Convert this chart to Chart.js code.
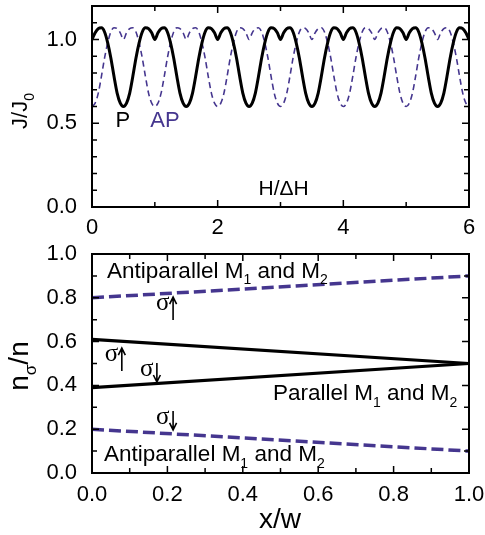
<!DOCTYPE html>
<html>
<head>
<meta charset="utf-8">
<script src="https://cdn.jsdelivr.net/npm/chart.js@4.4.1/dist/chart.umd.min.js"></script>
<style>
  html, body { margin: 0; padding: 0; background: #fff; }
  #wrap { position: relative; width: 485px; height: 535px; }
  #top { position: absolute; left: 0; top: 0; }
  #bottom { position: absolute; left: 0; top: 235px; }
</style>
</head>
<body>
<div id="wrap">
  <canvas id="top" width="485" height="235" style="width:485px;height:235px"></canvas>
  <canvas id="bottom" width="485" height="300" style="width:485px;height:300px"></canvas>
</div>
<script>
// ---- top panel: J/J0 vs H/dH ----
const hValues = [
  0, 0.05, 0.1, 0.15, 0.2, 0.25, 0.3, 0.35, 0.4, 0.45, 0.5, 0.55, 0.6, 0.65, 0.7, 0.75, 0.8, 0.85, 0.9, 0.95,
  1, 1.05, 1.1, 1.15, 1.2, 1.25, 1.3, 1.35, 1.4, 1.45, 1.5, 1.55, 1.6, 1.65, 1.7, 1.75, 1.8, 1.85, 1.9, 1.95,
  2, 2.05, 2.1, 2.15, 2.2, 2.25, 2.3, 2.35, 2.4, 2.45, 2.5, 2.55, 2.6, 2.65, 2.7, 2.75, 2.8, 2.85, 2.9, 2.95,
  3, 3.05, 3.1, 3.15, 3.2, 3.25, 3.3, 3.35, 3.4, 3.45, 3.5, 3.55, 3.6, 3.65, 3.7, 3.75, 3.8, 3.85, 3.9, 3.95,
  4, 4.05, 4.1, 4.15, 4.2, 4.25, 4.3, 4.35, 4.4, 4.45, 4.5, 4.55, 4.6, 4.65, 4.7, 4.75, 4.8, 4.85, 4.9, 4.95,
  5, 5.05, 5.1, 5.15, 5.2, 5.25, 5.3, 5.35, 5.4, 5.45, 5.5, 5.55, 5.6, 5.65, 5.7, 5.75, 5.8, 5.85, 5.9, 5.95,
  6
]
const pValues = [
  1.00, 1.04, 1.065, 1.07, 1.045, 0.98, 0.89, 0.78, 0.68, 0.62, 0.60, 0.62, 0.68, 0.78, 0.89, 0.98, 1.045, 1.07, 1.065, 1.04,
  1.00, 1.04, 1.065, 1.07, 1.045, 0.98, 0.89, 0.78, 0.68, 0.62, 0.60, 0.62, 0.68, 0.78, 0.89, 0.98, 1.045, 1.07, 1.065, 1.04,
  1.00, 1.04, 1.065, 1.07, 1.045, 0.98, 0.89, 0.78, 0.68, 0.62, 0.60, 0.62, 0.68, 0.78, 0.89, 0.98, 1.045, 1.07, 1.065, 1.04,
  1.00, 1.04, 1.065, 1.07, 1.045, 0.98, 0.89, 0.78, 0.68, 0.62, 0.60, 0.62, 0.68, 0.78, 0.89, 0.98, 1.045, 1.07, 1.065, 1.04,
  1.00, 1.04, 1.065, 1.07, 1.045, 0.98, 0.89, 0.78, 0.68, 0.62, 0.60, 0.62, 0.68, 0.78, 0.89, 0.98, 1.045, 1.07, 1.065, 1.04,
  1.00, 1.04, 1.065, 1.07, 1.045, 0.98, 0.89, 0.78, 0.68, 0.62, 0.60, 0.62, 0.68, 0.78, 0.89, 0.98, 1.045, 1.07, 1.065, 1.04,
  1.00
]
const apValues = [
  0.60, 0.62, 0.68, 0.78, 0.89, 0.98, 1.045, 1.07, 1.065, 1.04, 1.00, 1.04, 1.065, 1.07, 1.045, 0.98, 0.89, 0.78, 0.68, 0.62,
  0.60, 0.62, 0.68, 0.78, 0.89, 0.98, 1.045, 1.07, 1.065, 1.04, 1.00, 1.04, 1.065, 1.07, 1.045, 0.98, 0.89, 0.78, 0.68, 0.62,
  0.60, 0.62, 0.68, 0.78, 0.89, 0.98, 1.045, 1.07, 1.065, 1.04, 1.00, 1.04, 1.065, 1.07, 1.045, 0.98, 0.89, 0.78, 0.68, 0.62,
  0.60, 0.62, 0.68, 0.78, 0.89, 0.98, 1.045, 1.07, 1.065, 1.04, 1.00, 1.04, 1.065, 1.07, 1.045, 0.98, 0.89, 0.78, 0.68, 0.62,
  0.60, 0.62, 0.68, 0.78, 0.89, 0.98, 1.045, 1.07, 1.065, 1.04, 1.00, 1.04, 1.065, 1.07, 1.045, 0.98, 0.89, 0.78, 0.68, 0.62,
  0.60, 0.62, 0.68, 0.78, 0.89, 0.98, 1.045, 1.07, 1.065, 1.04, 1.00, 1.04, 1.065, 1.07, 1.045, 0.98, 0.89, 0.78, 0.68, 0.62,
  0.60
]
const topXLabels = [0, 2, 4, 6]
const topXMarks = [0, 1, 2, 3, 4, 5, 6]
const topYLabels = [0, 0.5, 1.0]
const topYMarks = [0, 0.1, 0.2, 0.3, 0.4, 0.5, 0.6, 0.7, 0.8, 0.9, 1.0, 1.1]

// ---- bottom panel: n_sigma/n vs x/w ----
const xwValues = [0, 1]
const apUpValues = [0.80, 0.90]
const pUpValues = [0.61, 0.50]
const pDownValues = [0.39, 0.50]
const apDownValues = [0.20, 0.10]
const botXLabels = [0, 0.2, 0.4, 0.6, 0.8, 1.0]
const botXMarks = [0, 0.1, 0.2, 0.3, 0.4, 0.5, 0.6, 0.7, 0.8, 0.9, 1.0]
const botYLabels = [0, 0.2, 0.4, 0.6, 0.8, 1.0]
const botYMarks = [0, 0.1, 0.2, 0.3, 0.4, 0.5, 0.6, 0.7, 0.8, 0.9, 1.0]

const SANS = '"Liberation Sans", Arial, Helvetica, sans-serif'
const SERIF = '"Liberation Serif", "Times New Roman", serif'
const PURPLE = '#45368f'

// text with subscripts: plain strings, or [str] for a subscript piece
function drawRich(ctx, parts, px, py, size, align, color) {
    const pieces = parts.map(p => Array.isArray(p)
        ? { t: p[0], f: Math.round(size * 0.62), dy: size * 0.3 }
        : { t: p, f: size, dy: 0 })
    let w = 0
    pieces.forEach(p => { ctx.font = `${p.f}px ${SANS}`; p.w = ctx.measureText(p.t).width; w += p.w })
    let cx = align === 'center' ? px - w / 2 : px
    ctx.fillStyle = color || '#000'
    ctx.textAlign = 'left'
    ctx.textBaseline = 'alphabetic'
    pieces.forEach(p => { ctx.font = `${p.f}px ${SANS}`; ctx.fillText(p.t, cx, py + p.dy); cx += p.w })
}

const decor = {
    id: 'decor',
    afterDatasetsDraw(chart, args, o) {
        const { ctx, chartArea: a, scales: { x, y } } = chart
        ctx.save()
        ctx.strokeStyle = '#000'
        ctx.lineWidth = 2
        ctx.strokeRect(a.left, a.top, a.right - a.left, a.bottom - a.top)

        // inward ticks on all four sides
        ctx.lineWidth = 1.5
        ctx.beginPath()
        o.xMarks.forEach(v => {
            const px = x.getPixelForValue(v)
            const len = o.xLabels.includes(v) ? 7 : 5
            ctx.moveTo(px, a.bottom); ctx.lineTo(px, a.bottom - len)
            ctx.moveTo(px, a.top); ctx.lineTo(px, a.top + len)
        })
        o.yMarks.forEach(v => {
            const py = y.getPixelForValue(v)
            const len = o.yLabels.includes(v) ? 7 : 5
            ctx.moveTo(a.left, py); ctx.lineTo(a.left + len, py)
            ctx.moveTo(a.right, py); ctx.lineTo(a.right - len, py)
        })
        ctx.stroke()

        // notes in data coordinates
        o.notes.forEach(n => {
            drawRich(ctx, n.parts, x.getPixelForValue(n.x), y.getPixelForValue(n.y), n.size, n.align, n.color)
        })

        // sigma with spin arrows
        ctx.fillStyle = '#000'
        ctx.strokeStyle = '#000'
        ctx.lineWidth = 1.6
        ;(o.sigmas || []).forEach(s => {
            const px = x.getPixelForValue(s.x), py = y.getPixelForValue(s.y)
            ctx.font = `25px ${SERIF}`
            ctx.textAlign = 'left'
            ctx.textBaseline = 'alphabetic'
            ctx.fillText('σ', px, py)
            const ax = px + 17
            const top = py - 13
            const bot = s.dir === 'up' ? py + 10 : py + 6
            ctx.beginPath()
            ctx.moveTo(ax, top); ctx.lineTo(ax, bot)
            if (s.dir === 'up') {
                ctx.moveTo(ax - 3.5, top + 7); ctx.lineTo(ax, top); ctx.lineTo(ax + 3.5, top + 7)
            } else {
                ctx.moveTo(ax - 3.5, bot - 7); ctx.lineTo(ax, bot); ctx.lineTo(ax + 3.5, bot - 7)
            }
            ctx.stroke()
        })

        // axis titles
        o.titles.forEach(t => {
            ctx.save()
            ctx.translate(t.px, t.py)
            if (t.rotate) ctx.rotate(-Math.PI / 2)
            drawRich(ctx, t.parts, 0, 0, t.size, 'center', '#000')
            ctx.restore()
        })
        ctx.restore()
    }
}

function makeScale(min, max, labels, padding, fit, fmt, horizontal) {
    return {
        type: 'linear',
        min, max,
        grid: { display: false, drawTicks: false },
        border: { display: false },
        ticks: {
            color: '#000',
            font: { family: SANS, size: 22 },
            padding,
            autoSkip: false,
            maxRotation: 0,
            callback: fmt
        },
        afterBuildTicks: s => { s.ticks = labels.map(v => ({ value: v })) },
        afterFit: s => {
            // fixed axis box, no label overhang padding
            if (horizontal) { s.height = fit; s.paddingLeft = 0; s.paddingRight = 0 }
            else { s.width = fit; s.paddingTop = 0; s.paddingBottom = 0 }
        }
    }
}

new Chart(document.getElementById('top'), {
    type: 'line',
    data: {
        datasets: [
            {
                label: 'P',
                data: hValues.map((h, i) => ({ x: h, y: pValues[i] })),
                borderColor: '#000',
                borderWidth: 3,
                pointRadius: 0,
                cubicInterpolationMode: 'monotone',
                fill: false
            },
            {
                label: 'AP',
                data: hValues.map((h, i) => ({ x: h, y: apValues[i] })),
                borderColor: PURPLE,
                borderWidth: 1.6,
                borderDash: [6, 4],
                pointRadius: 0,
                cubicInterpolationMode: 'monotone',
                fill: false
            }
        ]
    },
    options: {
        responsive: false,
        animation: false,
        layout: { padding: { top: 6, right: 16, left: 0, bottom: 0 } },
        plugins: {
            legend: { display: false },
            tooltip: { enabled: false },
            decor: {
                xMarks: topXMarks, xLabels: topXLabels,
                yMarks: topYMarks, yLabels: topYLabels,
                notes: [
                    { x: 0.49, y: 0.479, parts: ['P'], size: 22, align: 'center', color: '#000' },
                    { x: 1.16, y: 0.479, parts: ['AP'], size: 22, align: 'center', color: PURPLE },
                    { x: 3.05, y: 0.072, parts: ['H/ΔH'], size: 21, align: 'center', color: '#000' }
                ],
                titles: [
                    { px: 27, py: 111, rotate: true, size: 22, parts: ['J/J', ['0']] }
                ]
            }
        },
        scales: {
            x: makeScale(0, 6, topXLabels, 8, 28, v => String(v), true),
            y: makeScale(0, 1.2, topYLabels, 15, 92, v => v.toFixed(1), false)
        }
    },
    plugins: [decor]
})

new Chart(document.getElementById('bottom'), {
    type: 'line',
    data: {
        datasets: [
            { data: xwValues.map((v, i) => ({ x: v, y: pUpValues[i] })), borderColor: '#000', borderWidth: 3.2, pointRadius: 0, fill: false },
            { data: xwValues.map((v, i) => ({ x: v, y: pDownValues[i] })), borderColor: '#000', borderWidth: 3.2, pointRadius: 0, fill: false },
            { data: xwValues.map((v, i) => ({ x: v, y: apUpValues[i] })), borderColor: PURPLE, borderWidth: 3.5, borderDash: [12, 5], pointRadius: 0, fill: false },
            { data: xwValues.map((v, i) => ({ x: v, y: apDownValues[i] })), borderColor: PURPLE, borderWidth: 3.5, borderDash: [12, 5], pointRadius: 0, fill: false }
        ]
    },
    options: {
        responsive: false,
        animation: false,
        layout: { padding: { top: 19, right: 16, left: 0, bottom: 0 } },
        plugins: {
            legend: { display: false },
            tooltip: { enabled: false },
            decor: {
                xMarks: botXMarks, xLabels: botXLabels,
                yMarks: botYMarks, yLabels: botYLabels,
                notes: [
                    { x: 0.04, y: 0.892, parts: ['Antiparallel M', ['1'], ' and M', ['2']], size: 22.5, align: 'left' },
                    { x: 0.48, y: 0.333, parts: ['Parallel M', ['1'], ' and M', ['2']], size: 22.5, align: 'left' },
                    { x: 0.032, y: 0.055, parts: ['Antiparallel M', ['1'], ' and M', ['2']], size: 22.5, align: 'left' }
                ],
                sigmas: [
                    { x: 0.170, y: 0.744, dir: 'up' },
                    { x: 0.034, y: 0.511, dir: 'up' },
                    { x: 0.127, y: 0.443, dir: 'down' },
                    { x: 0.170, y: 0.224, dir: 'down' }
                ],
                titles: [
                    { px: 28, py: 131, rotate: true, size: 28, parts: ['n', ['σ'], '/n'] },
                    { px: 280, py: 293, rotate: false, size: 28, parts: ['x/w'] }
                ]
            }
        },
        scales: {
            x: makeScale(0, 1, botXLabels, 9, 62, v => v.toFixed(1), true),
            y: makeScale(0, 1, botYLabels, 15, 92, v => v.toFixed(1), false)
        }
    },
    plugins: [decor]
})
</script>
</body>
</html>
